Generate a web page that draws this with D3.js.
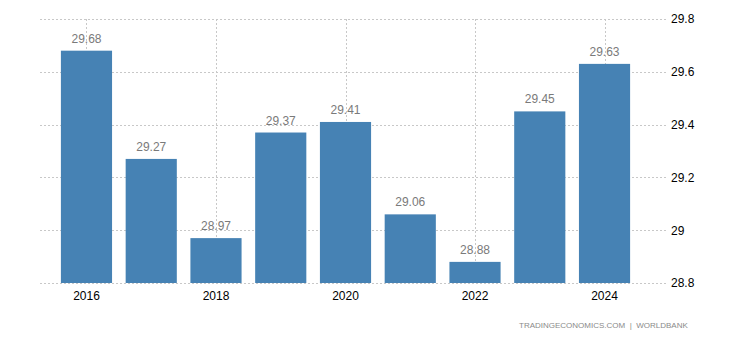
<!DOCTYPE html>
<html><head><meta charset="utf-8">
<script src="https://cdn.jsdelivr.net/npm/d3@7"></script>
<style>body{margin:0;background:#fff;}svg{display:block;font-family:"Liberation Sans",Arial,sans-serif;}</style>
</head><body>
<svg id="c" width="730" height="340"></svg>
<script>
const years = ["2016","2017","2018","2019","2020","2021","2022","2023","2024"];
const values = [29.68, 29.27, 28.97, 29.37, 29.41, 29.06, 28.88, 29.45, 29.63];
const xTickLabels = ["2016","2018","2020","2022","2024"];
const yTicks = [28.8, 29, 29.2, 29.4, 29.6, 29.8];
const sourceText = "TRADINGECONOMICS.COM  |  WORLDBANK";

const svg = d3.select("#c");
const gridLeft = 40, gridRight = 668;
const x = d3.scaleBand().domain(years).range([54.1, 636.9]).paddingInner(0.21).paddingOuter(0.105);
const y = d3.scaleLinear().domain([28.8, 29.8]).range([283, 19]);

const grid = svg.append("g");
grid.selectAll("line.h").data(yTicks).join("line")
  .attr("x1", gridLeft).attr("x2", gridRight)
  .attr("y1", d => Math.round(y(d)) + 0.5).attr("y2", d => Math.round(y(d)) + 0.5)
  .attr("stroke", "#c8c8c8").attr("stroke-dasharray", "2,2");
grid.selectAll("line.v").data(xTickLabels).join("line")
  .attr("x1", d => Math.round(x(d) + x.bandwidth()/2) + 0.5).attr("x2", d => Math.round(x(d) + x.bandwidth()/2) + 0.5)
  .attr("y1", y(29.8)).attr("y2", y(28.8))
  .attr("stroke", "#c8c8c8").attr("stroke-dasharray", "2,2");

svg.append("g").selectAll("rect").data(years).join("rect")
  .attr("x", d => x(d)).attr("width", x.bandwidth())
  .attr("y", (d,i) => y(values[i])).attr("height", (d,i) => y(28.8) - y(values[i]))
  .attr("fill", "#4682b4");

svg.append("g").selectAll("text").data(years).join("text")
  .attr("x", d => x(d) + x.bandwidth()/2).attr("y", (d,i) => y(values[i]) - 8)
  .attr("text-anchor", "middle").attr("font-size", 12).attr("fill", "#7a7a7a")
  .text((d,i) => values[i].toFixed(2));

const xAxis = d3.axisBottom(x).tickValues(xTickLabels).tickSize(0).tickPadding(8);
const gx = svg.append("g").attr("transform", `translate(0,${y(28.8)})`).call(xAxis);
gx.select(".domain").remove();
gx.selectAll("text").attr("font-size", 12).attr("fill", "#000").attr("font-family", "Liberation Sans, Arial, sans-serif");

const yAxis = d3.axisRight(y).tickValues(yTicks).tickSize(0).tickPadding(3).tickFormat(d => d3.format("")(+d.toFixed(1)));
const gy = svg.append("g").attr("transform", `translate(${gridRight},0)`).call(yAxis);
gy.select(".domain").remove();
gy.selectAll("text").attr("font-size", 12).attr("fill", "#000").attr("font-family", "Liberation Sans, Arial, sans-serif");

svg.append("text").attr("x", 519).attr("y", 328).attr("text-anchor", "start")
  .attr("font-size", 8).attr("fill", "#8a8a8a").attr("xml:space", "preserve").text(sourceText);
</script>
</body></html>
